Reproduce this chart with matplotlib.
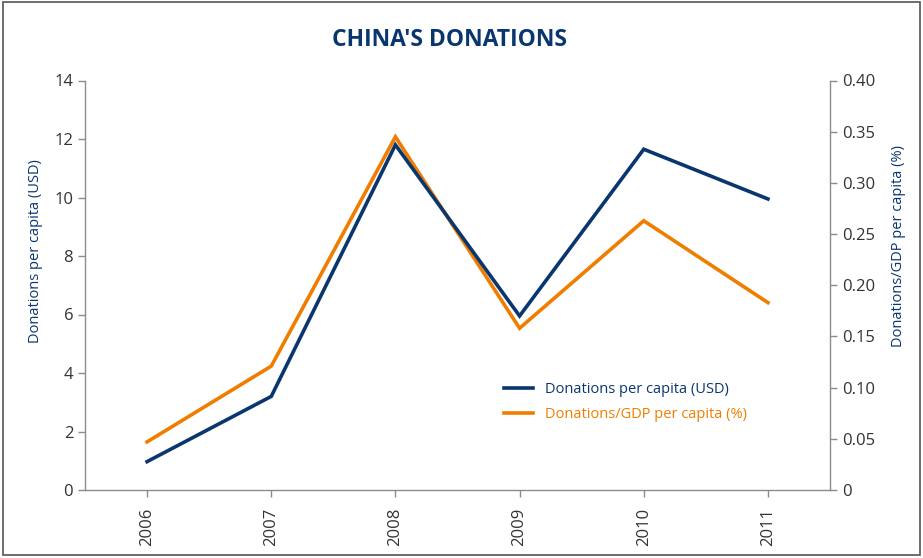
import matplotlib
matplotlib.use("Agg")
import matplotlib.pyplot as plt
from matplotlib.patches import Rectangle

plt.rcParams['font.family'] = ['Open Sans', 'DejaVu Sans']

years = ['2006', '2007', '2008', '2009', '2010', '2011']
usd_per_capita = [0.97, 3.2, 11.8, 5.95, 11.65, 9.95]
gdp_share = [0.047, 0.121, 0.345, 0.158, 0.263, 0.183]

blue = '#0a3670'
orange = '#f07d00'
grey = '#8c8c8c'
text_col = '#333333'

fig = plt.figure(figsize=(9.23, 5.58), dpi=100)
ax = fig.add_axes([85 / 923, 1 - 490 / 558, (830 - 85) / 923, (490 - 80.5) / 558])
ax2 = ax.twinx()

x = range(len(years))
l1, = ax.plot(x, usd_per_capita, color=blue, lw=2.6, solid_joinstyle='miter',
              label='Donations per capita (USD)')
l2, = ax2.plot(x, gdp_share, color=orange, lw=2.6, solid_joinstyle='miter',
               label='Donations/GDP per capita (%)')
ax.set_zorder(ax2.get_zorder() + 1)
ax.patch.set_visible(False)

ax.set_xlim(-0.5, len(years) - 0.5)
ax.set_ylim(0, 14)
ax.set_yticks(range(0, 15, 2))
ax2.set_ylim(0, 0.40)
ax2.set_yticks([0, 0.05, 0.10, 0.15, 0.20, 0.25, 0.30, 0.35, 0.40])
ax2.set_yticklabels(['0', '0.05', '0.10', '0.15', '0.20', '0.25', '0.30', '0.35', '0.40'])
ax.set_xticks(list(x))
ax.set_xticklabels(years, rotation=90)

for a in (ax, ax2):
    a.spines['top'].set_visible(False)
    for s in ('left', 'right', 'bottom'):
        a.spines[s].set_color(grey)
        a.spines[s].set_linewidth(1.0)
    a.tick_params(colors=grey, labelcolor=text_col, labelsize=12, length=5, width=1)
ax.tick_params(axis='x', pad=8)
ax2.spines['left'].set_visible(False)
ax2.spines['bottom'].set_visible(False)
ax.spines['right'].set_visible(False)

ax.set_ylabel('Donations per capita (USD)', color=blue, fontsize=10.5)
ax.yaxis.set_label_coords(-0.057, 0.584)
ax2.set_ylabel('Donations/GDP per capita (%)', color=blue, fontsize=10.5)
ax2.yaxis.set_label_coords(1.082, 0.596)

fig.text(449 / 923, 1 - 40 / 558, "CHINA'S DONATIONS", color=blue, fontsize=16.5,
         fontweight='bold', ha='center', va='center')

leg = ax.legend(handles=[l1, l2], loc='upper left', bbox_to_anchor=(0.545, 0.295),
                frameon=False, fontsize=10.5, handlelength=2.0, handletextpad=0.8,
                labelspacing=0.65)
leg.get_texts()[0].set_color(blue)
leg.get_texts()[1].set_color(orange)

# outer frame
fig.patches.append(Rectangle((3 / 923, 3 / 558), 1 - 6 / 923, 1 - 5 / 558,
                             transform=fig.transFigure, fill=False,
                             edgecolor='#555555', lw=1.2))

fig.savefig('out.png', dpi=100)
